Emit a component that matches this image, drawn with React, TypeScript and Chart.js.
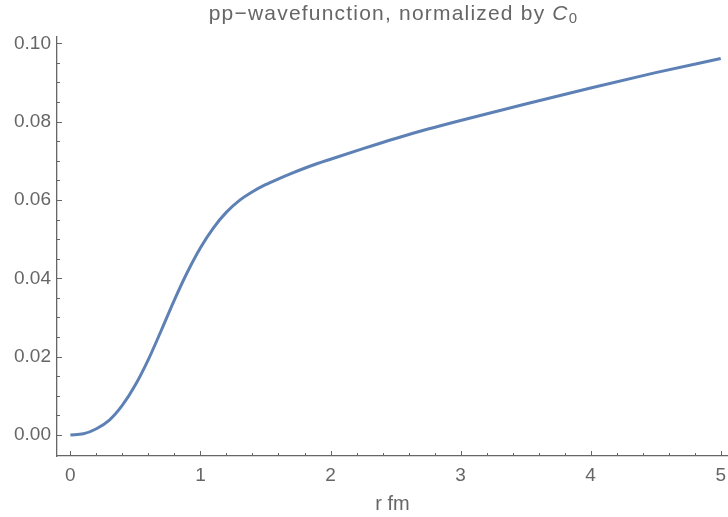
import React, { useEffect, useRef } from "react";
import { Chart, registerables } from "chart.js";

Chart.register(...registerables);

const rValues = [0, 0.1, 0.2, 0.3, 0.4, 0.5, 0.6, 0.7, 0.8, 0.9, 1.0, 1.1, 1.2, 1.3, 1.4, 1.5, 1.6, 1.7, 1.8, 1.9, 2.0, 2.25, 2.5, 2.75, 3.0, 3.5, 4.0, 4.5, 5.0];
const psiValues = [0, 0.0003, 0.0016, 0.0038, 0.0076, 0.0128, 0.0193, 0.0268, 0.0345, 0.0416, 0.0478, 0.0529, 0.0569, 0.0599, 0.0621, 0.0639, 0.0654, 0.0668, 0.0681, 0.0693, 0.0704, 0.0731, 0.0757, 0.0781, 0.0803, 0.0845, 0.0886, 0.0925, 0.0961];
const xTickValues = [0, 1, 2, 3, 4, 5];
const yTickValues = [0, 0.02, 0.04, 0.06, 0.08, 0.1];
const titleMain = "pp\u2212wavefunction, normalized by ";
const titleSym = "C";
const titleSub = "0";
const xLabel = "r fm";

const GRAY = "#666666";
const FONT = "'Liberation Sans', Arial, sans-serif";

const ticksPlugin = {
  id: "mmaTicks",
  afterDraw(chart: any) {
    const ctx = chart.ctx;
    const xs = chart.scales.x;
    const ys = chart.scales.y;
    const area = chart.chartArea;
    ctx.save();
    ctx.strokeStyle = GRAY;
    ctx.lineWidth = 1;
    for (let i = 0; i <= 25; i++) {
      const v = i * 0.2;
      const px = Math.round(xs.getPixelForValue(v)) + 0.5;
      const len = i % 5 === 0 ? 5 : 3;
      ctx.beginPath();
      ctx.moveTo(px, area.bottom);
      ctx.lineTo(px, area.bottom - len);
      ctx.stroke();
    }
    for (let i = 0; i <= 20; i++) {
      const v = i * 0.005;
      const py = Math.round(ys.getPixelForValue(v)) + 0.5;
      const len = i % 4 === 0 ? 5 : 3;
      ctx.beginPath();
      ctx.moveTo(area.left, py);
      ctx.lineTo(area.left + len, py);
      ctx.stroke();
    }
    // title
    ctx.fillStyle = GRAY;
    ctx.textBaseline = "alphabetic";
    (ctx as any).letterSpacing = "1.2px";
    const mainFont = `21px ${FONT}`;
    const symFont = `italic 21px ${FONT}`;
    const subFont = `15px ${FONT}`;
    ctx.font = mainFont;
    const w1 = ctx.measureText(titleMain).width;
    ctx.font = symFont;
    const w2 = ctx.measureText(titleSym).width;
    ctx.font = subFont;
    const w3 = ctx.measureText(titleSub).width;
    const total = w1 + w2 + w3;
    const cx = (area.left + area.right) / 2 + 1;
    let x = cx - total / 2;
    const base = 20;
    ctx.textAlign = "left";
    ctx.font = mainFont;
    ctx.fillText(titleMain, x, base);
    x += w1;
    ctx.font = symFont;
    ctx.fillText(titleSym, x, base);
    x += w2;
    ctx.font = subFont;
    ctx.fillText(titleSub, x, base + 3);
    (ctx as any).letterSpacing = "0px";
    ctx.restore();
  },
};

export default function App() {
  const ref = useRef<HTMLCanvasElement>(null);
  useEffect(() => {
    document.body.style.margin = "0";
    const canvas = ref.current!;
    const chart = new Chart(canvas, {
      type: "line",
      data: {
        datasets: [
          {
            data: rValues.map((r, i) => ({ x: r, y: psiValues[i] })),
            borderColor: "#5E81B5",
            borderWidth: 3,
            pointRadius: 0,
            cubicInterpolationMode: "monotone",
            fill: false,
          },
        ],
      },
      options: {
        animation: false,
        responsive: false,
        devicePixelRatio: 1,
        layout: { padding: { top: 37, left: 0, right: 0, bottom: 0 } },
        plugins: { legend: { display: false }, tooltip: { enabled: false }, title: { display: false } },
        scales: {
          x: {
            type: "linear",
            min: -0.103,
            max: 5.056,
            afterFit: (s: any) => { s.height = 61; s.paddingRight = 0; s.paddingLeft = 0; },
            afterBuildTicks: (s: any) => { s.ticks = xTickValues.map((v) => ({ value: v })); },
            grid: { display: false, drawTicks: false },
            border: { display: true, color: GRAY, width: 1.3 },
            ticks: {
              color: GRAY,
              font: { size: 19, family: FONT },
              padding: 8,
              maxRotation: 0,
              callback: (v: any) => String(v),
            },
            title: {
              display: true,
              text: xLabel,
              color: GRAY,
              font: { size: 20, family: FONT },
              padding: { top: 0, bottom: 1 },
            },
          },
          y: {
            type: "linear",
            min: -0.00536,
            max: 0.1016,
            afterFit: (s: any) => { s.width = 57; },
            afterBuildTicks: (s: any) => { s.ticks = yTickValues.map((v) => ({ value: v })); },
            grid: { display: false, drawTicks: false },
            border: { display: true, color: GRAY, width: 1.3 },
            ticks: {
              color: GRAY,
              font: { size: 19, family: FONT },
              padding: 6,
              callback: (v: any) => Number(v).toFixed(2),
            },
          },
        },
      },
      plugins: [ticksPlugin],
    } as any);
    return () => chart.destroy();
  }, []);
  return (
    <div style={{ width: 728, height: 517 }}>
      <canvas ref={ref} width={728} height={517} style={{ display: "block" }} />
    </div>
  );
}
